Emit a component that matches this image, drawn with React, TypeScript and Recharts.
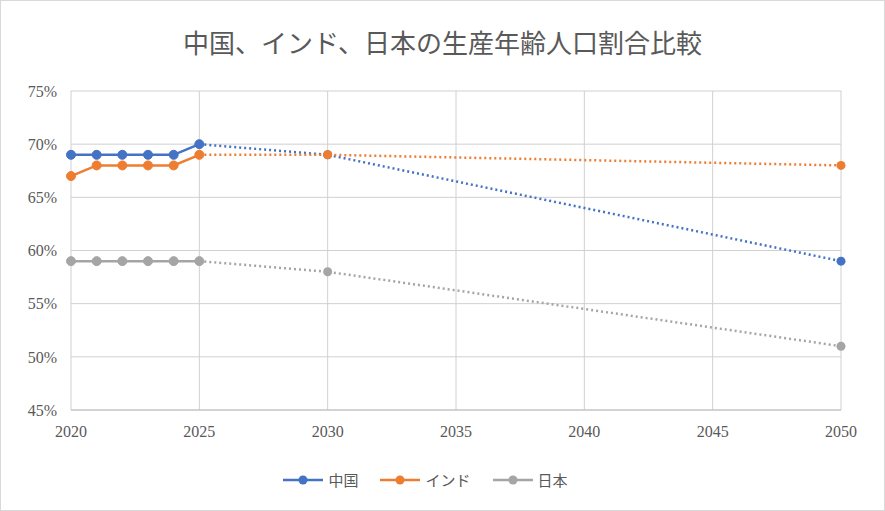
import React from "react";
import { LineChart, Line, XAxis, YAxis, CartesianGrid, Legend } from "recharts";

const years = [2020, 2021, 2022, 2023, 2024, 2025, 2030, 2050];
const china = [69, 69, 69, 69, 69, 70, 69, 59];
const india = [67, 68, 68, 68, 68, 69, 69, 68];
const japan = [59, 59, 59, 59, 59, 59, 58, 51];
const xTicks = [2020, 2025, 2030, 2035, 2040, 2045, 2050];
const yTicks = [45, 50, 55, 60, 65, 70, 75];

// solid part up to 2025, dotted projection after
const data = years.map((year, i) => ({
  year,
  china: year <= 2025 ? china[i] : null,
  india: year <= 2025 ? india[i] : null,
  japan: year <= 2025 ? japan[i] : null,
  chinaP: year >= 2025 ? china[i] : null,
  indiaP: year >= 2025 ? india[i] : null,
  japanP: year >= 2025 ? japan[i] : null,
}));

const series = [
  { key: "china", name: "中国", color: "#4472C4" },
  { key: "india", name: "インド", color: "#ED7D31" },
  { key: "japan", name: "日本", color: "#A5A5A5" },
];

const tickStyle = { fontSize: 16, fill: "#595959", fontFamily: "Liberation Serif" };

const LegendContent = () => (
  <div style={{ display: "flex", justifyContent: "center", gap: 22, fontSize: 15, color: "#595959", fontFamily: "Noto Sans CJK JP" }}>
    {series.map((s) => (
      <div key={s.key} style={{ display: "flex", alignItems: "center", gap: 5 }}>
        <svg width={40} height={12}>
          <line x1={0} y1={6} x2={40} y2={6} stroke={s.color} strokeWidth={2.5} />
          <circle cx={20} cy={6} r={4.5} fill={s.color} />
        </svg>
        <span>{s.name}</span>
      </div>
    ))}
  </div>
);

export default function App() {
  return (
    <div
      style={{
        position: "absolute",
        top: 0,
        left: 0,
        width: 883,
        height: 509,
        border: "1px solid #d9d9d9",
        background: "#fff",
      }}
    >
      <div
        style={{
          position: "absolute",
          top: 22,
          width: "100%",
          textAlign: "center",
          fontSize: 26,
          color: "#595959",
          fontFamily: "Noto Sans CJK JP",
        }}
      >
        中国、インド、日本の生産年齢人口割合比較
      </div>
      <LineChart
        width={883}
        height={509}
        data={data}
        margin={{ top: 90, right: 43, left: 9, bottom: 49 }}
      >
        <CartesianGrid stroke="#d0d0d0" />
        <XAxis
          dataKey="year"
          type="number"
          domain={[2020, 2050]}
          ticks={xTicks}
          tick={tickStyle}
          tickLine={false}
          axisLine={{ stroke: "#bfbfbf" }}
          tickMargin={10}
          height={30}
        />
        <YAxis
          domain={[45, 75]}
          ticks={yTicks}
          tickFormatter={(v) => `${v}%`}
          tick={tickStyle}
          tickLine={false}
          axisLine={false}
          width={61}
          tickMargin={8}
        />
        <Legend
          verticalAlign="bottom"
          wrapperStyle={{ top: 468 }}
          content={<LegendContent />}
        />
        {series.map((s) => (
          <Line
            key={s.key}
            dataKey={s.key}
            name={s.name}
            stroke={s.color}
            strokeWidth={2.5}
            dot={{ r: 4.5, fill: s.color, stroke: s.color, strokeWidth: 1 }}
            isAnimationActive={false}
          />
        ))}
        {series.map((s) => (
          <Line
            key={s.key + "P"}
            dataKey={s.key + "P"}
            name={s.name + "予測"}
            stroke={s.color}
            strokeWidth={2.5}
            strokeDasharray="2 3"
            connectNulls
            legendType="none"
            dot={(p: any) =>
              p.payload.year > 2025 ? (
                <circle key={p.index} cx={p.cx} cy={p.cy} r={4.5} fill={s.color} />
              ) : (
                <g key={p.index} />
              )
            }
            isAnimationActive={false}
          />
        ))}
      </LineChart>
    </div>
  );
}
